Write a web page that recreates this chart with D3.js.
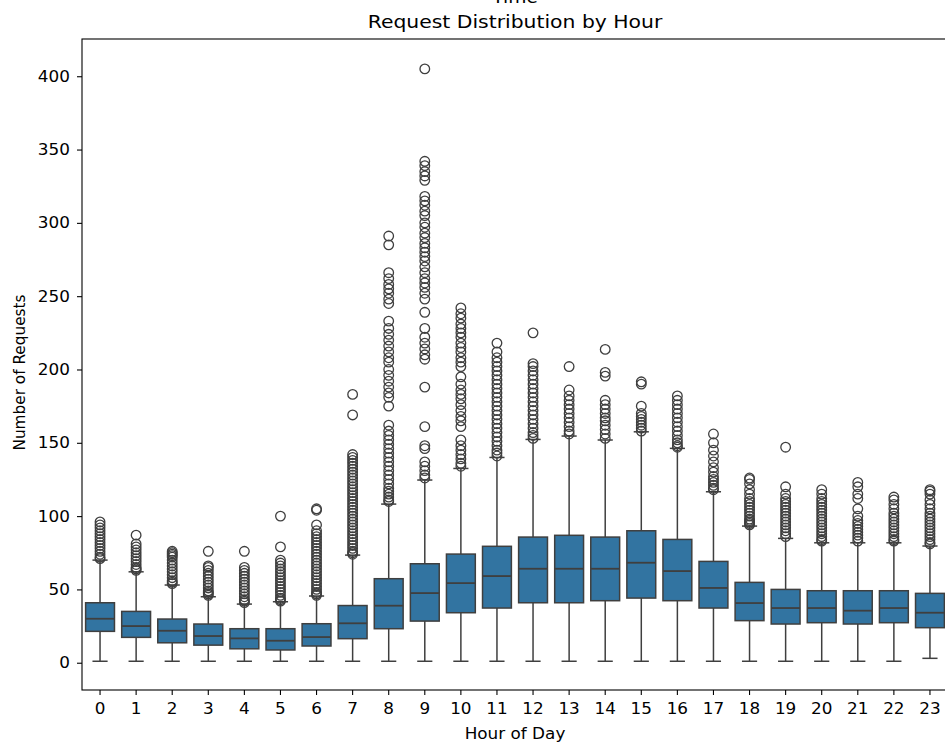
<!DOCTYPE html>
<html>
<head>
<meta charset="utf-8">
<script src="https://cdn.jsdelivr.net/npm/d3@7"></script>
<style>
  body { margin: 0; background: #fff; }
  svg { display: block; font-family: "DejaVu Sans", sans-serif; }
</style>
</head>
<body>
<div class="chart-container"></div>
<script>
//! DATA
const HOURS = d3.range(0, 24);
const Q1 =     [21.4, 17.3, 13.6, 12.0,  9.5,  8.7, 11.4, 16.4, 23.2, 28.4, 34.1, 37.3, 40.9, 40.9, 42.3, 44.1, 42.3, 37.3, 28.7, 26.4, 27.3, 26.4, 27.3, 23.9];
const MEDIAN = [30.0, 25.0, 21.8, 18.2, 16.6, 15.0, 17.5, 26.9, 38.9, 47.5, 54.3, 59.1, 64.1, 64.1, 64.1, 68.2, 62.5, 51.0, 40.7, 37.3, 37.3, 35.5, 37.3, 34.1];
const Q3 =     [40.9, 35.0, 29.8, 26.4, 23.2, 23.2, 26.6, 39.0, 57.3, 67.5, 74.1, 79.4, 85.7, 86.9, 85.7, 90.0, 84.1, 69.1, 54.8, 50.0, 49.1, 49.1, 49.1, 47.3];
const WHISK_LO = [1, 1, 1, 1, 1, 1, 1, 1, 1, 1, 1, 1, 1, 1, 1, 1, 1, 1, 1, 1, 1, 1, 1, 3];
const WHISK_HI = [70, 62, 53, 45, 40, 41.6, 45.5, 73.4, 108.2, 124.6, 132.5, 140, 152.3, 154.6, 151.9, 157.5, 146.2, 116.6, 93.2, 84.8, 81.8, 81.8, 81.8, 79.6];
const OUTLIERS = [
  [96, 94, 92, 90, 88, 86, 84, 82, 80, 78, 76, 74, 72, 71],
  [87, 81, 79, 77, 75, 73, 71, 69, 67, 65, 64, 63],
  [76, 75, 74, 73, 72, 70, 68, 66, 64, 62, 60, 58, 56, 55, 54],
  [76, 66, 65, 63, 61, 59, 57, 55, 53, 51, 49, 48, 47, 46],
  [76, 65, 63, 61, 59, 57, 55, 53, 51, 49, 47, 45, 43, 42, 41],
  [100, 79, 70, 68, 66, 64, 62, 60, 58, 56, 54, 52, 50, 48, 46, 44, 43, 42],
  [105, 104, 94, 90, 88, 86, 84, 82, 80, 78, 76, 74, 72, 70, 68, 66, 64, 62, 60, 58, 56, 54, 52, 50, 48, 47, 46],
  [183, 169, 142, 140, 138, 136, 134, 132, 130, 128, 126, 124, 122, 120, 118, 116, 114, 112, 110, 108, 106, 104, 102, 100, 98, 96, 94, 92, 90, 88, 86, 84, 82, 80, 78, 76, 75, 74],
  [291, 285, 266, 262, 258, 255, 252, 248, 245, 233, 228, 224, 220, 216, 212, 208, 205, 200, 196, 192, 188, 184, 181, 175, 162, 158, 155, 152, 149, 146, 143, 140, 137, 134, 131, 128, 125, 122, 119, 117, 115, 113, 111, 110],
  [405, 342, 339, 335, 332, 329, 318, 315, 312, 308, 305, 300, 297, 293, 290, 286, 283, 280, 277, 274, 270, 266, 262, 259, 256, 252, 248, 239, 228, 222, 218, 214, 210, 207, 188, 161, 148, 146, 137, 134, 131, 128, 126],
  [242, 238, 235, 231, 228, 225, 222, 218, 215, 212, 208, 205, 202, 195, 190, 186, 183, 180, 176, 172, 168, 165, 161, 152, 148, 145, 142, 139, 136, 134],
  [218, 212, 208, 205, 202, 199, 196, 193, 190, 187, 184, 181, 178, 175, 172, 169, 166, 163, 160, 157, 154, 151, 148, 145, 143, 141],
  [225, 204, 202, 199, 196, 193, 190, 187, 184, 181, 178, 175, 172, 169, 166, 163, 160, 157, 155, 153],
  [202, 186, 182, 179, 176, 173, 170, 167, 164, 161, 158, 156],
  [213.7, 198, 195.5, 179, 176, 173, 170, 167, 165, 162, 159, 156, 153],
  [191.6, 190, 175, 170, 168, 166, 164, 162, 160, 158],
  [182, 179, 176, 173, 170, 167, 164, 161, 158, 155, 152, 150, 148, 147],
  [156, 150, 145, 141, 137, 133, 130, 127, 125, 123, 121, 119, 118],
  [126, 125, 122, 118, 115, 112, 110, 108, 106, 104, 102, 100, 98, 97, 96, 95, 94],
  [147, 120, 115, 112, 110, 108, 106, 104, 102, 100, 98, 96, 94, 92, 90, 88, 86],
  [118, 115, 112, 110, 108, 106, 104, 102, 100, 98, 96, 94, 92, 90, 88, 86, 84, 83],
  [123, 120, 115, 112, 105, 100, 97, 95, 93, 91, 89, 87, 85, 83],
  [113, 111, 108, 105, 102, 100, 98, 96, 94, 92, 90, 88, 86, 84, 83],
  [118, 117, 115, 111, 108, 105, 102, 100, 98, 96, 94, 92, 90, 88, 86, 84, 82, 81]
];
const Y_TICKS = [0, 50, 100, 150, 200, 250, 300, 350, 400];

//! CONSTS
const WIDTH = 945;
const HEIGHT = 745;
const LEFT = 82, RIGHT = 948, TOP = 39, BOTTOM = 690;
const BOX_FILL = '#3274a1';
const LINE = '#3f3f3f';
const STRETCH = 'scale(1.1,1)'; // the reference text is a bit wide
const FS = '15.3px';

const svg = d3.select('.chart-container')
  .append('svg')
  .attr('width', WIDTH)
  .attr('height', HEIGHT);

const x = d3.scaleBand()
  .domain(HOURS)
  .range([LEFT, RIGHT])
  .padding(0);

const y = d3.scaleLinear()
  .domain([-18.6, 425.4])
  .range([BOTTOM, TOP]);

const bw = x.bandwidth() * 0.8;
const cap = x.bandwidth() * 0.42;
const cx = h => x(h) + x.bandwidth() / 2;

// boxes
const g = svg.append('g').attr('class', 'boxes');
const box = g.selectAll('g.box')
  .data(HOURS)
  .enter()
  .append('g')
  .attr('class', 'box');

// whiskers
box.append('line')
  .attr('x1', cx).attr('x2', cx)
  .attr('y1', (d, i) => y(WHISK_HI[i])).attr('y2', (d, i) => y(Q3[i]))
  .attr('stroke', LINE).attr('stroke-width', 1.5);
box.append('line')
  .attr('x1', cx).attr('x2', cx)
  .attr('y1', (d, i) => y(WHISK_LO[i])).attr('y2', (d, i) => y(Q1[i]))
  .attr('stroke', LINE).attr('stroke-width', 1.5);
// caps
box.append('line')
  .attr('x1', d => cx(d) - cap / 2).attr('x2', d => cx(d) + cap / 2)
  .attr('y1', (d, i) => y(WHISK_HI[i])).attr('y2', (d, i) => y(WHISK_HI[i]))
  .attr('stroke', LINE).attr('stroke-width', 1.5);
box.append('line')
  .attr('x1', d => cx(d) - cap / 2).attr('x2', d => cx(d) + cap / 2)
  .attr('y1', (d, i) => y(WHISK_LO[i])).attr('y2', (d, i) => y(WHISK_LO[i]))
  .attr('stroke', LINE).attr('stroke-width', 1.5);

box.append('rect')
  .attr('x', d => cx(d) - bw / 2)
  .attr('width', bw)
  .attr('y', (d, i) => y(Q3[i]))
  .attr('height', (d, i) => y(Q1[i]) - y(Q3[i]))
  .attr('fill', BOX_FILL)
  .attr('stroke', LINE)
  .attr('stroke-width', 1.5);

box.append('line')
  .attr('x1', d => cx(d) - bw / 2).attr('x2', d => cx(d) + bw / 2)
  .attr('y1', (d, i) => y(MEDIAN[i])).attr('y2', (d, i) => y(MEDIAN[i]))
  .attr('stroke', LINE).attr('stroke-width', 1.8);

// fliers
box.selectAll('circle')
  .data((d, i) => OUTLIERS[i].map(v => ({ h: d, v })))
  .enter()
  .append('circle')
  .attr('cx', d => cx(d.h))
  .attr('cy', d => y(d.v))
  .attr('r', 4.8)
  .attr('fill', 'none')
  .attr('stroke', LINE)
  .attr('stroke-width', 1.3);

// axes
const xAxis = svg.append('g')
  .attr('transform', `translate(0,${BOTTOM})`)
  .call(d3.axisBottom(x).tickSize(5).tickPadding(8));
const yAxis = svg.append('g')
  .attr('transform', `translate(${LEFT},0)`)
  .call(d3.axisLeft(y).tickValues(Y_TICKS).tickSize(5).tickPadding(6));

[xAxis, yAxis].forEach(a => {
  a.select('.domain').remove();
  a.selectAll('.tick line').attr('stroke', '#000').attr('stroke-width', 1.1);
  a.selectAll('.tick text').attr('fill', '#000').style('font-size', FS)
    .style('font-family', '"DejaVu Sans", sans-serif')
    .attr('transform', STRETCH);
});

// frame
svg.append('rect')
  .attr('x', LEFT).attr('y', TOP)
  .attr('width', RIGHT - LEFT).attr('height', BOTTOM - TOP)
  .attr('fill', 'none').attr('stroke', '#000').attr('stroke-width', 1.1);

// texts
const mid = (LEFT + RIGHT) / 2;
svg.append('text')
  .attr('transform', `translate(${mid},2.5) ${STRETCH}`)
  .attr('text-anchor', 'middle').style('font-size', '17px')
  .text('Time');
svg.append('text')
  .attr('transform', `translate(${mid},28) ${STRETCH}`)
  .attr('text-anchor', 'middle').style('font-size', '18.5px')
  .text('Request Distribution by Hour');
svg.append('text')
  .attr('transform', `translate(${mid},739) ${STRETCH}`)
  .attr('text-anchor', 'middle').style('font-size', FS)
  .text('Hour of Day');
svg.append('text')
  .attr('transform', `translate(25,${(TOP + BOTTOM) / 2 + 8}) rotate(-90)`)
  .attr('text-anchor', 'middle').style('font-size', FS)
  .text('Number of Requests');
</script>
</body>
</html>
